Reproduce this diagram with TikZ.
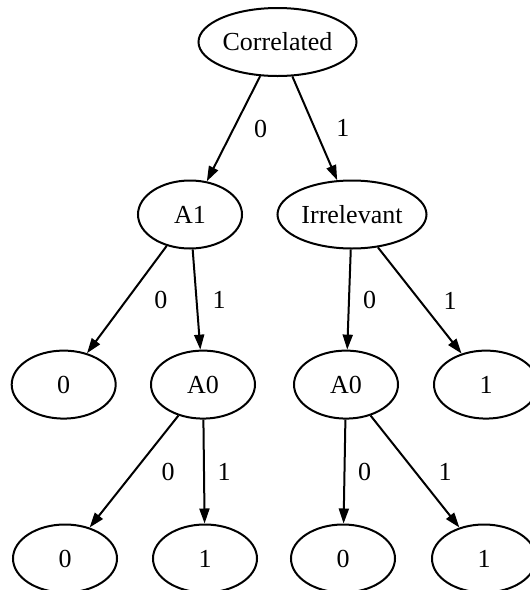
\documentclass[tikz,border=0pt]{standalone}
\usepackage{fontspec}
\setmainfont{Liberation Serif}
\usetikzlibrary{shapes.geometric,arrows.meta}
\tikzset{
  st/.style={ellipse, draw, line width=2pt, inner sep=0pt, minimum width=104pt, minimum height=68pt, font=\fontsize{26}{30}\selectfont},
  edge/.style={line width=2pt, -{Triangle[length=15pt,width=10pt]}},
  lab/.style={font=\fontsize{26}{30}\selectfont, inner sep=0pt}
}
\begin{document}
\begin{tikzpicture}[x=1pt,y=-1pt]
\useasboundingbox (0,0) rectangle (530,590);
\node[st, minimum width=158pt] (C) at (277.5,42) {Correlated};
\node[st] (A1) at (190,214.5) {A1};
\node[st, minimum width=149pt] (I) at (352,214.5) {Irrelevant};
\node[st] (L0) at (63.7,384.6) {0};
\node[st] (A0a) at (203,384.6) {A0};
\node[st] (A0b) at (346,384.6) {A0};
\node[st] (R1) at (486,384.6) {1};
\node[st] (B0) at (65,558.5) {0};
\node[st] (B1) at (205,558.5) {1};
\node[st] (B0r) at (343,558.5) {0};
\node[st] (B1r) at (484,558.5) {1};
\draw[edge] (C) -- node[lab, xshift=27pt] {0} (A1);
\draw[edge] (C) -- node[lab, xshift=28pt] {1} (I);
\draw[edge] (A1) -- node[lab, xshift=34pt] {0} (L0);
\draw[edge] (A1) -- node[lab, xshift=22.5pt] {1} (A0a);
\draw[edge] (I) -- node[lab, xshift=20.5pt] {0} (A0b);
\draw[edge] (I) -- node[lab, xshift=30.5pt] {1} (R1);
\draw[edge] (A0a) -- node[lab, xshift=34pt] {0} (B0);
\draw[edge] (A0a) -- node[lab, xshift=20pt] {1} (B1);
\draw[edge] (A0b) -- node[lab, xshift=20pt] {0} (B0r);
\draw[edge] (A0b) -- node[lab, xshift=30pt] {1} (B1r);
\end{tikzpicture}
\end{document}
